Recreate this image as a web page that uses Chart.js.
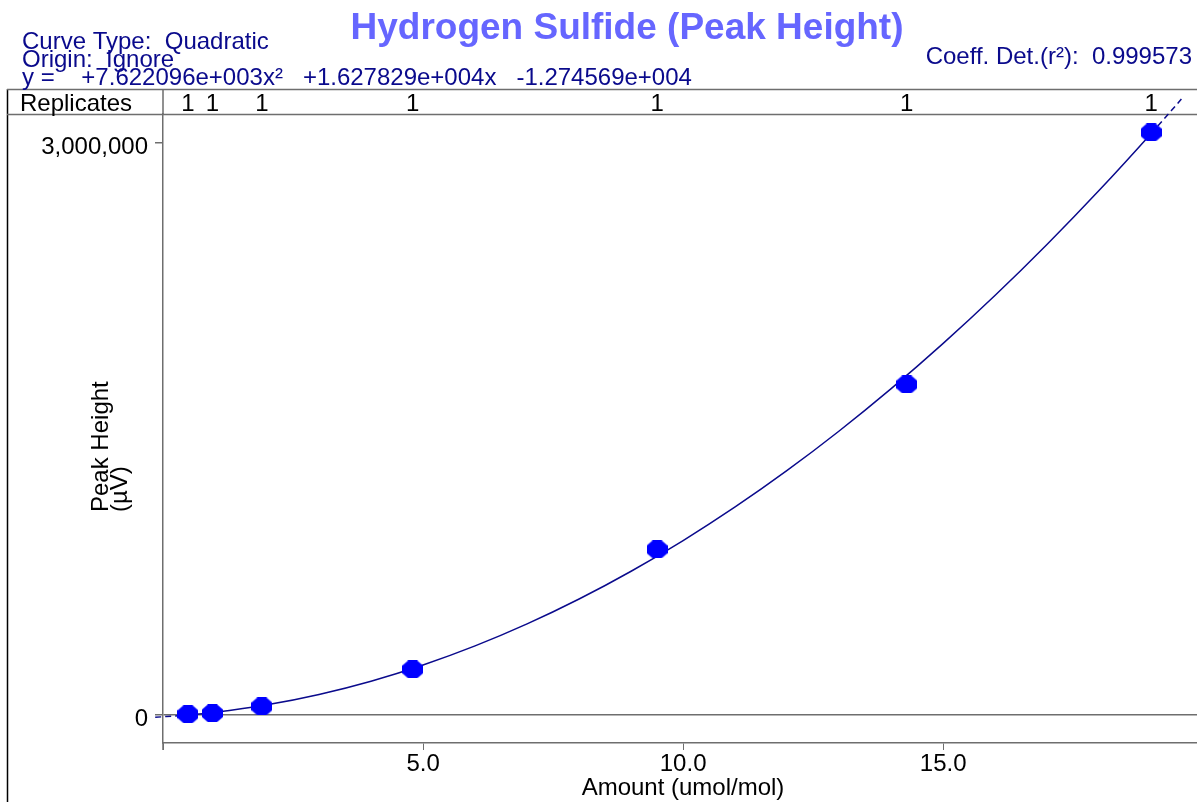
<!DOCTYPE html>
<html>
<head>
<meta charset="utf-8">
<script src="https://cdn.jsdelivr.net/npm/chart.js@4/dist/chart.umd.min.js"></script>
<style>
  html, body { margin: 0; padding: 0; background: #fff; overflow: hidden; }
  #calChart { display: block; }
</style>
</head>
<body>
<canvas id="calChart" width="1197" height="802"></canvas>
<script>
// calibration points (amount, peak height)
const amounts = [0.48, 0.95, 1.9, 4.8, 9.5, 14.3, 19.0];
const peakHeights = [1000, 6000, 42000, 236000, 866000, 1731000, 3053000];
const replicates = [1, 1, 1, 1, 1, 1, 1];

// fitted curve (y = 7.622096e3x² + 1.627829e4x - 1.274569e4)
const curveX = [-0.15, 0.48, 1, 2, 3, 4, 5, 6, 7, 8, 9, 10, 11, 12, 13, 14, 15, 16, 17, 18, 19, 19.58];
const curveY = [-15016, -3176, 11155, 50299, 104688, 174321, 259198, 359320, 474685, 605295, 751149,
    912247, 1088589, 1280176, 1487006, 1709081, 1946400, 2198964, 2466771, 2749823, 3048119, 3228115];

const xTicks = [0, 5, 10, 15];
const yTicks = [0, 3000000];

const titleText = 'Hydrogen Sulfide (Peak Height)';
const headerLines = ['Curve Type:  Quadratic', 'Origin:  Ignore',
    'y =    +7.622096e+003x\u00b2   +1.627829e+004x   -1.274569e+004'];
const coeffText = 'Coeff. Det.(r\u00b2):  0.999573';

const FONT = '"Liberation Sans", Arial, sans-serif';
const GRAY = '#6e6e6e';
const NAVY = '#0a0a8c';

// octagon marker
function makeOctagon(w, h, color) {
    const c = document.createElement('canvas');
    c.width = w; c.height = h;
    const g = c.getContext('2d');
    const cx = w / 2, cy = h / 2;
    const ax = w / 2, ay = h / 2;
    const k = 0.42;
    g.fillStyle = color;
    g.beginPath();
    g.moveTo(cx - ax * k, cy - ay);
    g.lineTo(cx + ax * k, cy - ay);
    g.lineTo(cx + ax, cy - ay * k);
    g.lineTo(cx + ax, cy + ay * k);
    g.lineTo(cx + ax * k, cy + ay);
    g.lineTo(cx - ax * k, cy + ay);
    g.lineTo(cx - ax, cy + ay * k);
    g.lineTo(cx - ax, cy - ay * k);
    g.closePath();
    g.fill();
    return c;
}
const octagon = makeOctagon(21, 18, '#0000ff');

const firstAmt = amounts[0];
const lastAmt = amounts[amounts.length - 1];

const framePlugin = {
    id: 'frame',
    beforeDraw(chart) {
        const ctx = chart.ctx;
        const area = chart.chartArea;
        ctx.save();
        ctx.strokeStyle = '#000';
        ctx.lineWidth = 1.5;
        ctx.beginPath();
        ctx.moveTo(7.5, 89);
        ctx.lineTo(7.5, 802);
        ctx.stroke();
        ctx.strokeStyle = GRAY;
        ctx.lineWidth = 1.5;
        ctx.beginPath();
        ctx.moveTo(7, 89.5);
        ctx.lineTo(1197, 89.5);
        ctx.moveTo(7, 114.5);
        ctx.lineTo(1197, 114.5);
        ctx.moveTo(area.left, 89);
        ctx.lineTo(area.left, area.top);
        ctx.moveTo(area.left, area.bottom);
        ctx.lineTo(area.left, area.bottom + 7);
        ctx.stroke();
        ctx.restore();
    },
    afterDraw(chart) {
        const ctx = chart.ctx;
        const xs = chart.scales.x;
        ctx.save();
        // title
        ctx.fillStyle = '#6666ff';
        ctx.font = 'bold 37px ' + FONT;
        ctx.textAlign = 'center';
        ctx.textBaseline = 'alphabetic';
        ctx.fillText(titleText, 627, 39);
        // header
        ctx.fillStyle = NAVY;
        ctx.font = '24px ' + FONT;
        ctx.textAlign = 'left';
        headerLines.forEach((t, i) => ctx.fillText(t, 22, 49 + i * 18));
        ctx.textAlign = 'right';
        ctx.fillText(coeffText, 1192, 64);
        // replicates row
        ctx.fillStyle = '#000';
        ctx.textAlign = 'left';
        ctx.fillText('Replicates', 20, 111);
        ctx.textAlign = 'center';
        amounts.forEach((a, i) => ctx.fillText(String(replicates[i]), xs.getPixelForValue(a), 111));
        // axis titles
        ctx.fillText('Amount (umol/mol)', 683, 795);
        ctx.save();
        ctx.translate(108, 512);
        ctx.rotate(-Math.PI / 2);
        ctx.textAlign = 'left';
        ctx.fillText('Peak Height', 0, 0);
        ctx.fillText('(\u00b5V)', 0, 19);
        ctx.restore();
        ctx.restore();
    }
};

new Chart(document.getElementById('calChart'), {
    type: 'scatter',
    data: {
        datasets: [{
            label: 'Calibration',
            data: amounts.map((a, i) => ({ x: a, y: peakHeights[i] })),
            pointStyle: octagon,
            pointRadius: 10,
            showLine: false,
            clip: false
        }, {
            label: 'Fit',
            data: curveX.map((a, i) => ({ x: a, y: curveY[i] })),
            showLine: true,
            pointRadius: 0,
            borderColor: NAVY,
            borderWidth: 1.5,
            cubicInterpolationMode: 'monotone',
            clip: false,
            segment: {
                borderDash: c => (c.p1.parsed.x <= firstAmt || c.p0.parsed.x >= lastAmt) ? [6, 4] : undefined
            }
        }]
    },
    options: {
        responsive: false,
        maintainAspectRatio: false,
        devicePixelRatio: 1,
        animation: false,
        events: [],
        layout: { autoPadding: false, padding: { top: 114, left: 0, right: 0, bottom: 0 } },
        plugins: { legend: { display: false }, tooltip: { enabled: false } },
        scales: {
            x: {
                type: 'linear',
                min: 0,
                max: 19.88,
                afterBuildTicks: s => { s.ticks = xTicks.map(v => ({ value: v })); },
                afterFit: s => { s.height = 59; s.paddingLeft = 0; s.paddingRight = 0; },
                border: { display: true, color: GRAY, width: 1.5 },
                grid: { drawOnChartArea: false, color: GRAY, tickLength: 7 },
                ticks: {
                    color: '#000',
                    font: { family: FONT, size: 24 },
                    padding: 0,
                    maxRotation: 0,
                    callback: v => v === 0 ? '' : v.toFixed(1)
                }
            },
            y: {
                type: 'linear',
                min: -150000,
                max: 3150000,
                afterBuildTicks: s => { s.ticks = yTicks.map(v => ({ value: v })); },
                afterFit: s => { s.width = 163; s.paddingTop = 0; s.paddingBottom = 0; },
                border: { display: true, color: GRAY, width: 1.5 },
                grid: {
                    color: c => c.tick && c.tick.value === 0 ? GRAY : 'rgba(0,0,0,0)',
                    tickColor: GRAY,
                    lineWidth: 1.5,
                    tickLength: 8
                },
                ticks: {
                    color: '#000',
                    font: { family: FONT, size: 24 },
                    padding: 7,
                    labelOffset: 5,
                    callback: v => v.toLocaleString('en-US')
                }
            }
        }
    },
    plugins: [framePlugin]
});
</script>
</body>
</html>
